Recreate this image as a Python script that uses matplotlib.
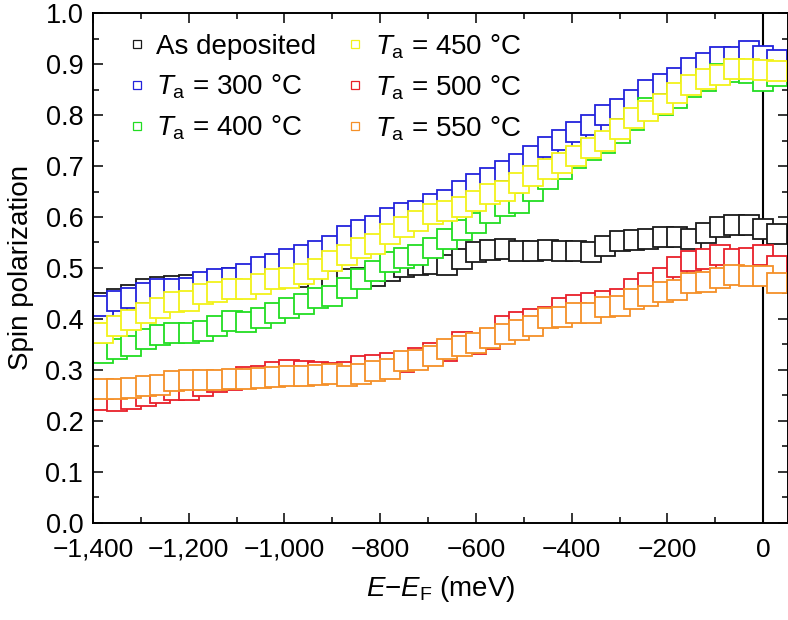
import matplotlib
matplotlib.use('Agg')
import matplotlib.pyplot as plt
from matplotlib.ticker import MultipleLocator, FuncFormatter

plt.rcParams['font.family'] = ['Liberation Sans', 'DejaVu Sans']
plt.rcParams['mathtext.fontset'] = 'custom'
plt.rcParams['mathtext.rm'] = 'Liberation Sans'
plt.rcParams['mathtext.it'] = 'Liberation Sans:italic'

energy = [-1380, -1350, -1320, -1290, -1260, -1230, -1200, -1170, -1140, -1110,
          -1080, -1050, -1020, -990, -960, -930, -900, -870, -840, -810,
          -780, -750, -720, -690, -660, -630, -600, -570, -540, -510,
          -480, -450, -420, -390, -360, -330, -300, -270, -240, -210,
          -180, -150, -120, -90, -60, -30, 0, 30]

as_dep = [0.432, 0.440, 0.447, 0.458, 0.462, 0.464, 0.467, 0.471, 0.476, 0.480,
          0.480, 0.478, 0.480, 0.482, 0.482, 0.478, 0.475, 0.479, 0.481, 0.485,
          0.495, 0.501, 0.505, 0.508, 0.505, 0.517, 0.531, 0.536, 0.537, 0.533,
          0.533, 0.536, 0.534, 0.533, 0.531, 0.543, 0.553, 0.554, 0.556, 0.560,
          0.560, 0.557, 0.569, 0.580, 0.585, 0.584, 0.576, 0.567]

t300 = [0.425, 0.435, 0.441, 0.451, 0.458, 0.458, 0.461, 0.472, 0.479, 0.481,
        0.489, 0.502, 0.507, 0.517, 0.526, 0.534, 0.544, 0.563, 0.574, 0.583,
        0.598, 0.607, 0.612, 0.625, 0.634, 0.651, 0.664, 0.677, 0.690, 0.705,
        0.719, 0.738, 0.751, 0.767, 0.780, 0.801, 0.812, 0.830, 0.849, 0.862,
        0.873, 0.893, 0.903, 0.914, 0.914, 0.926, 0.917, 0.909]

t400 = [0.334, 0.341, 0.346, 0.360, 0.368, 0.373, 0.372, 0.376, 0.386, 0.396,
        0.394, 0.402, 0.411, 0.422, 0.430, 0.441, 0.445, 0.461, 0.479, 0.494,
        0.511, 0.520, 0.526, 0.540, 0.556, 0.575, 0.589, 0.608, 0.621, 0.628,
        0.651, 0.675, 0.695, 0.715, 0.732, 0.745, 0.765, 0.791, 0.814, 0.820,
        0.834, 0.855, 0.868, 0.880, 0.885, 0.882, 0.868, 0.876]

t450 = [0.373, 0.386, 0.397, 0.412, 0.422, 0.433, 0.436, 0.448, 0.453, 0.459,
        0.459, 0.468, 0.479, 0.481, 0.489, 0.497, 0.513, 0.525, 0.540, 0.548,
        0.567, 0.580, 0.593, 0.605, 0.612, 0.620, 0.632, 0.646, 0.652, 0.667,
        0.680, 0.695, 0.706, 0.720, 0.736, 0.749, 0.772, 0.795, 0.808, 0.821,
        0.844, 0.860, 0.870, 0.878, 0.891, 0.890, 0.888, 0.887]

t500 = [0.240, 0.238, 0.243, 0.248, 0.254, 0.260, 0.261, 0.269, 0.276, 0.280,
        0.285, 0.288, 0.295, 0.299, 0.297, 0.295, 0.294, 0.295, 0.307, 0.310,
        0.314, 0.315, 0.323, 0.333, 0.337, 0.354, 0.350, 0.360, 0.386, 0.394,
        0.399, 0.404, 0.422, 0.428, 0.432, 0.436, 0.440, 0.458, 0.470, 0.481,
        0.502, 0.513, 0.518, 0.525, 0.518, 0.520, 0.525, 0.503]

t550 = [0.262, 0.262, 0.265, 0.269, 0.271, 0.278, 0.280, 0.281, 0.281, 0.283,
        0.283, 0.284, 0.286, 0.288, 0.288, 0.289, 0.291, 0.288, 0.291, 0.297,
        0.301, 0.317, 0.320, 0.327, 0.341, 0.347, 0.352, 0.363, 0.371, 0.378,
        0.387, 0.402, 0.404, 0.411, 0.412, 0.424, 0.426, 0.440, 0.444, 0.452,
        0.456, 0.470, 0.472, 0.481, 0.487, 0.485, 0.485, 0.471]

series = [
    (as_dep, '#1a1a1a', 'As deposited'),
    (t300, '#2323dc', r'$T_{\mathrm{a}}$ = 300 °C'),
    (t400, '#22dd22', r'$T_{\mathrm{a}}$ = 400 °C'),
    (t450, '#f2f21a', r'$T_{\mathrm{a}}$ = 450 °C'),
    (t500, '#e8202a', r'$T_{\mathrm{a}}$ = 500 °C'),
    (t550, '#f59028', r'$T_{\mathrm{a}}$ = 550 °C'),
]

fig = plt.figure(figsize=(7.88, 6.2), dpi=100)
ax = fig.add_axes([0.118, 0.157, 0.882, 0.8216])

for vals, col, lab in series:
    ax.plot(energy, vals, 's', ms=13.8, mfc='white', mec=col, mew=1.3, label=lab)

ax.axvline(0, color='black', lw=1.5, zorder=0.5)

ax.set_xlim(-1400, 52)
ax.set_ylim(0, 1.0)
ax.xaxis.set_major_locator(MultipleLocator(200))
ax.xaxis.set_minor_locator(MultipleLocator(100))
ax.yaxis.set_major_locator(MultipleLocator(0.1))
ax.yaxis.set_minor_locator(MultipleLocator(0.05))
ax.xaxis.set_major_formatter(FuncFormatter(lambda v, p: f"{int(round(v)):,}".replace('-', '\u2212')))
ax.yaxis.set_major_formatter(FuncFormatter(lambda v, p: f"{v:.1f}"))

ax.tick_params(which='both', direction='in', top=True, right=True, width=1.1, labelsize=19.5)
ax.tick_params(which='major', length=7)
ax.tick_params(which='minor', length=4)
ax.tick_params(axis='y', which='major', pad=7)
ax.tick_params(axis='x', which='major', pad=11, labelsize=19)
for s in ax.spines.values():
    s.set_linewidth(1.4)

ax.set_xlabel(r'$E$−$E_{\mathrm{F}}$ (meV)', fontsize=20, labelpad=9)
ax.set_ylabel('Spin polarization', fontsize=20, labelpad=8)

leg = ax.legend(ncol=2, loc='upper left', bbox_to_anchor=(0.035, 0.985), frameon=False,
                fontsize=20, handlelength=0.6, handletextpad=0.4, columnspacing=1.1,
                labelspacing=0.45, borderaxespad=0)
for h in leg.legend_handles:
    h.set_markersize(6)
    h.set_markeredgewidth(0.9)

fig.savefig('out.png', dpi=100)
